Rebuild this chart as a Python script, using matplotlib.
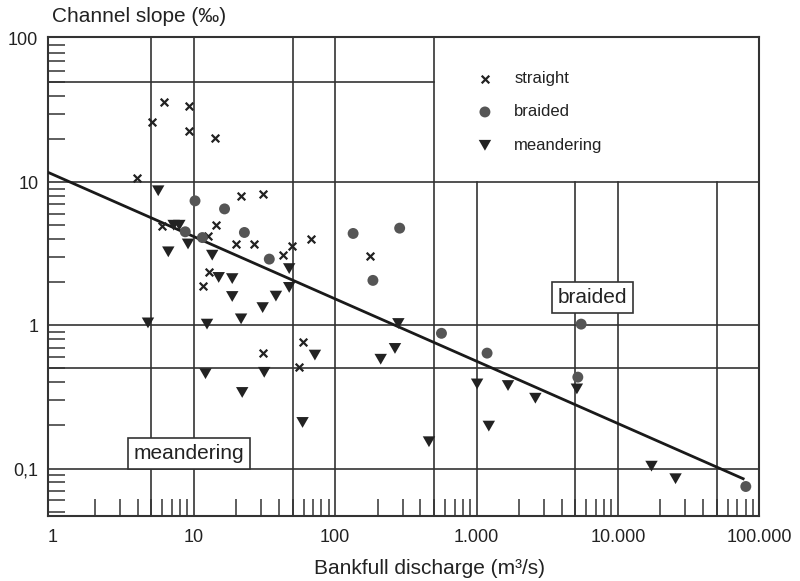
import matplotlib
matplotlib.use("Agg")
import matplotlib.pyplot as plt
from matplotlib.ticker import FixedLocator, FixedFormatter, LogLocator, NullFormatter

plt.rcParams['font.family'] = ['Liberation Sans', 'DejaVu Sans']

# data (discharge m3/s, slope per mille)
straight_q = [6.2, 9.2, 5.1, 9.2, 14.2, 3.96, 21.6, 30.7, 14.4, 6.0, 12.6, 19.9, 26.5,
              42.5, 49.5, 68, 12.8, 11.6, 176, 30.7, 58.8, 55.1]
straight_s = [36.1, 34.2, 26.1, 22.6, 20.2, 10.6, 8.0, 8.3, 5.0, 4.9, 4.2, 3.7, 3.7,
              3.09, 3.59, 4.0, 2.36, 1.87, 3.05, 0.64, 0.76, 0.51]

braided_q = [10.2, 16.5, 8.7, 11.5, 22.8, 34.2, 134, 286, 185, 565, 1188, 5500, 5210, 80400]
braided_s = [7.4, 6.5, 4.5, 4.1, 4.45, 2.9, 4.38, 4.77, 2.06, 0.88, 0.64, 1.02, 0.435, 0.075]

meander_q = [5.6, 7.2, 7.9, 9.1, 6.6, 13.5, 15.0, 18.7, 18.7, 38.1, 30.7, 47.3, 47.3,
             21.6, 4.74, 12.4, 12.1, 31.5, 22.0, 58.8, 71.9, 280, 265, 210, 461,
             1010, 1671, 2609, 1222, 5130, 17300, 25600]
meander_s = [8.7, 5.0, 5.0, 3.7, 3.26, 3.09, 2.16, 2.12, 1.59, 1.60, 1.33, 2.49, 1.84,
             1.11, 1.04, 1.02, 0.46, 0.47, 0.34, 0.21, 0.62, 1.03, 0.69, 0.58, 0.154,
             0.39, 0.38, 0.31, 0.198, 0.36, 0.104, 0.085]

fit_q = [0.93, 77000]
fit_s = [11.7, 0.085]

xticks = [1, 10, 100, 1000, 10000, 100000]
xlabels = ['1', '10', '100', '1.000', '10.000', '100.000']
yticks = [0.1, 1, 10, 100]
ylabels = ['0,1', '1', '10', '100']

# frame lines of the nomogram
hlines_full = [0.1, 0.5, 1, 10]
hline_short = 50          # stops at the legend box
vlines_full = [5, 10, 50, 100, 500]
vlines_low = [1000, 5000, 10000, 50000]   # from bottom up to 10

XMIN, XMAX = 0.93, 100000
YMIN, YMAX = 0.047, 103

LC = '#333333'
TC = '#222222'

fig = plt.figure(figsize=(8, 5.81), dpi=100)
ax = fig.add_axes([0.06, 0.1126, 0.889, 0.8237])
ax.set_xscale('log')
ax.set_yscale('log')
ax.set_xlim(XMIN, XMAX)
ax.set_ylim(YMIN, YMAX)

for y in hlines_full:
    ax.plot([XMIN, XMAX], [y, y], color=LC, lw=1.2, zorder=1)
ax.plot([XMIN, 500], [hline_short, hline_short], color=LC, lw=1.2, zorder=1)
for x in vlines_full:
    ax.plot([x, x], [YMIN, YMAX], color=LC, lw=1.2, zorder=1)
for x in vlines_low:
    ax.plot([x, x], [YMIN, 10], color=LC, lw=1.2, zorder=1)

ax.plot(fit_q, fit_s, color='#1a1a1a', lw=2.0, zorder=3)

tri = [(-1, 0.87), (1, 0.87), (0, -0.87)]
ax.scatter(straight_q, straight_s, marker='x', s=30, color='#222222', linewidths=1.6,
           zorder=4, label='straight')
ax.scatter(braided_q, braided_s, marker='o', s=62, color='#555555', edgecolors='none',
           zorder=4, label='braided')
ax.scatter(meander_q, meander_s, marker=tri, s=80, color='#222222', edgecolors='none',
           zorder=4, label='meandering')

box = dict(boxstyle='square,pad=0.28', fc='white', ec=LC, lw=1.2)
ax.text(9.2, 0.128, 'meandering', fontsize=15, color=TC, ha='center', va='center',
        zorder=5, bbox=box)
ax.text(6620, 1.57, 'braided', fontsize=15, color=TC, ha='center', va='center',
        zorder=5, bbox=box)

leg = ax.legend(loc='upper left', bbox_to_anchor=(476.6 / 800, 1 - 71 / 581),
                bbox_transform=fig.transFigure, frameon=False, fontsize=12,
                handlelength=1.0, handletextpad=1.25, borderpad=0, borderaxespad=0,
                labelspacing=1.1, scatterpoints=1)
for t in leg.get_texts():
    t.set_color(TC)

ax.xaxis.set_major_locator(FixedLocator(xticks))
ax.xaxis.set_major_formatter(FixedFormatter(xlabels))
ax.yaxis.set_major_locator(FixedLocator(yticks))
ax.yaxis.set_major_formatter(FixedFormatter(ylabels))
sub = [2, 3, 4, 5, 6, 7, 8, 9]
ax.xaxis.set_minor_locator(LogLocator(base=10, subs=sub, numticks=20))
ax.yaxis.set_minor_locator(LogLocator(base=10, subs=sub, numticks=20))
ax.xaxis.set_minor_formatter(NullFormatter())
ax.yaxis.set_minor_formatter(NullFormatter())
ax.tick_params(which='major', length=0, labelsize=13, labelcolor=TC)
ax.tick_params(axis='x', which='major', pad=10)
ax.tick_params(axis='y', which='major', pad=7)
ax.tick_params(which='minor', direction='in', length=12, width=1.1, color=LC)

for sp in ax.spines.values():
    sp.set_linewidth(1.5)
    sp.set_color(LC)

fig.text(52 / 800, 1 - 17 / 581, 'Channel slope (‰)', fontsize=15, color=TC,
         ha='left', va='center')
fig.text(430 / 800, 1 - 569 / 581, 'Bankfull discharge (m³/s)', fontsize=15, color=TC,
         ha='center', va='center')

fig.savefig('out.png', dpi=100)
